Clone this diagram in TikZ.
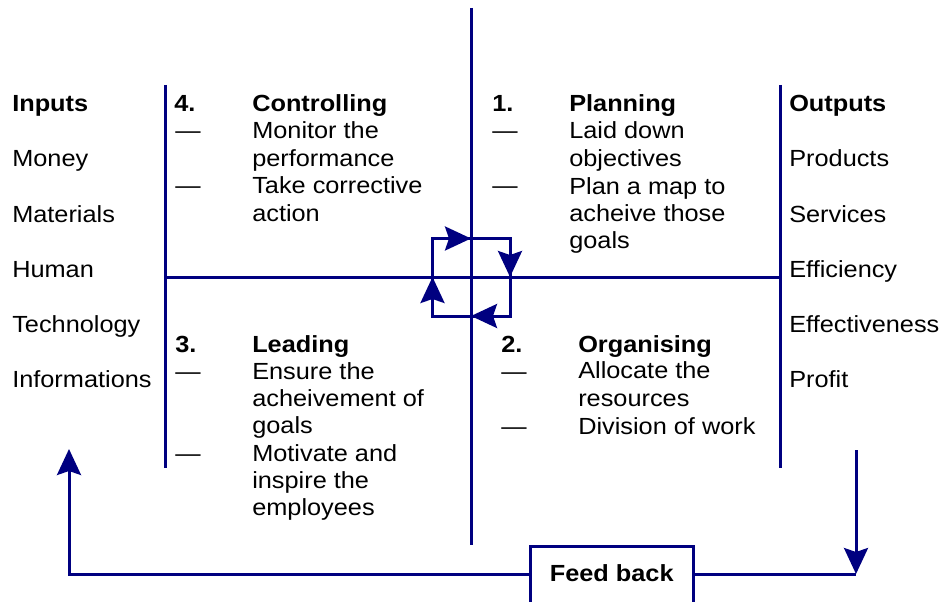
\documentclass[tikz,border=0pt]{standalone}
\usepackage{fontspec}
\setmainfont[FakeStretch=1.085]{Liberation Sans}
\usetikzlibrary{arrows.meta}
\definecolor{navy}{RGB}{0,0,128}
\begin{document}
\begin{tikzpicture}[x=0.75pt,y=-0.75pt,
  rule/.style={draw=navy,line width=2.25pt},
  flow/.style={rule,-{Stealth[length=19.5pt,width=18pt,inset=3pt]}},
  % multi-line texts are placed by the baseline of their last line
  txt/.style={inner sep=0pt,anchor=base west,align=left,
    font=\fontsize{17.5}{20.5}\selectfont},
  head/.style={txt,font=\fontsize{17.5}{20.5}\selectfont\bfseries},
  fbbox/.style={draw=navy,line width=2.25pt,fill=white,anchor=base,
    inner xsep=0pt,inner ysep=0pt,text height=25.9pt,text depth=21pt,
    minimum width=121.9pt,font=\fontsize{17.5}{20.5}\selectfont\bfseries}]
\useasboundingbox (0,0) rectangle (944,602);

% axes of the management cycle
\coordinate (vTop) at (471,8);
\coordinate (vBot) at (471,545);
\coordinate (hL) at (165,277);
\coordinate (hR) at (780,277);
\draw[rule] (vTop) -- (vBot);
\draw[rule] (hL) -- (hR);

% input and output boundaries
\coordinate (inTop) at (165,85);
\coordinate (inBot) at (165,468);
\coordinate (outTop) at (780,85);
\coordinate (outBot) at (780,468);
\draw[rule] (inTop) -- (inBot);
\draw[rule] (outTop) -- (outBot);

% clockwise cycle around the centre
\coordinate (lpA) at (432.5,238.5);
\coordinate (lpB) at (510,238.5);
\coordinate (lpC) at (510,316);
\coordinate (lpD) at (432.5,316);
\coordinate (mTop) at (471,238.5);
\coordinate (mRight) at (510,277);
\coordinate (mBot) at (471,316);
\coordinate (mLeft) at (432.5,277);
\draw[rule] (lpA) -- (lpB) -- (lpC) -- (lpD) -- cycle;
\draw[flow] (lpA) -- (mTop);
\draw[flow] (lpB) -- (mRight);
\draw[flow] (lpC) -- (mBot);
\draw[flow] (lpD) -- (mLeft);

% inputs
\node[head] (inputs) at (12,112) {Inputs};
\node[txt] (money) at (12,167) {Money};
\node[txt] (materials) at (12,222) {Materials};
\node[txt] (human) at (12,277) {Human};
\node[txt] (technology) at (12,332) {Technology};
\node[txt] (informations) at (12,387) {Informations};

% outputs
\node[head] (outputs) at (789,112) {Outputs};
\node[txt] (products) at (789,167) {Products};
\node[txt] (services) at (789,222) {Services};
\node[txt] (efficiency) at (789,277) {Efficiency};
\node[txt] (effectiveness) at (789,332) {Effectiveness};
\node[txt] (profit) at (789,387) {Profit};

% 4. Controlling
\node[head] (n4) at (174,112) {4.};
\node[head] (ctrl) at (252,112) {Controlling};
\node[txt] (d4a) at (175,139) {—};
\node[txt] (ctrlA) at (252,166.3) {Monitor the\\performance};
\node[txt] (d4b) at (175,194) {—};
\node[txt] (ctrlB) at (252,221.3) {Take corrective\\action};

% 1. Planning
\node[head] (n1) at (492,112) {1.};
\node[head] (plan) at (569,112) {Planning};
\node[txt] (d1a) at (492,139) {—};
\node[txt] (planA) at (569,166.3) {Laid down\\objectives};
\node[txt] (d1b) at (492,194) {—};
\node[txt] (planB) at (569,248.7) {Plan a map to\\acheive those\\goals};

% 3. Leading
\node[head] (n3) at (175,352) {3.};
\node[head] (lead) at (252,352) {Leading};
\node[txt] (d3a) at (175,379) {—};
\node[txt] (leadA) at (252,433.7) {Ensure the\\acheivement of\\goals};
\node[txt] (d3b) at (175,461) {—};
\node[txt] (leadB) at (252,515.7) {Motivate and\\inspire the\\employees};

% 2. Organising
\node[head] (n2) at (501,352) {2.};
\node[head] (org) at (578,352) {Organising};
\node[txt] (d2a) at (501,379) {—};
\node[txt] (orgA) at (578,406.3) {Allocate the\\resources};
\node[txt] (d2b) at (501,434) {—};
\node[txt] (orgB) at (578,434) {Division of work};

% feedback loop
\node[fbbox] (fb) at (611.75,581) {Feed back};
\coordinate (cornerL) at (69,574);
\coordinate (cornerR) at (856,574);
\coordinate (inArrow) at (69,449);
\coordinate (outArrow) at (856,450);
\draw[flow] (fb.west |- cornerL) -- (cornerL) -- (inArrow);
\draw[flow] (outArrow) -- (cornerR);
\draw[rule] (fb.east |- cornerR) -- (cornerR);
\end{tikzpicture}
\end{document}
